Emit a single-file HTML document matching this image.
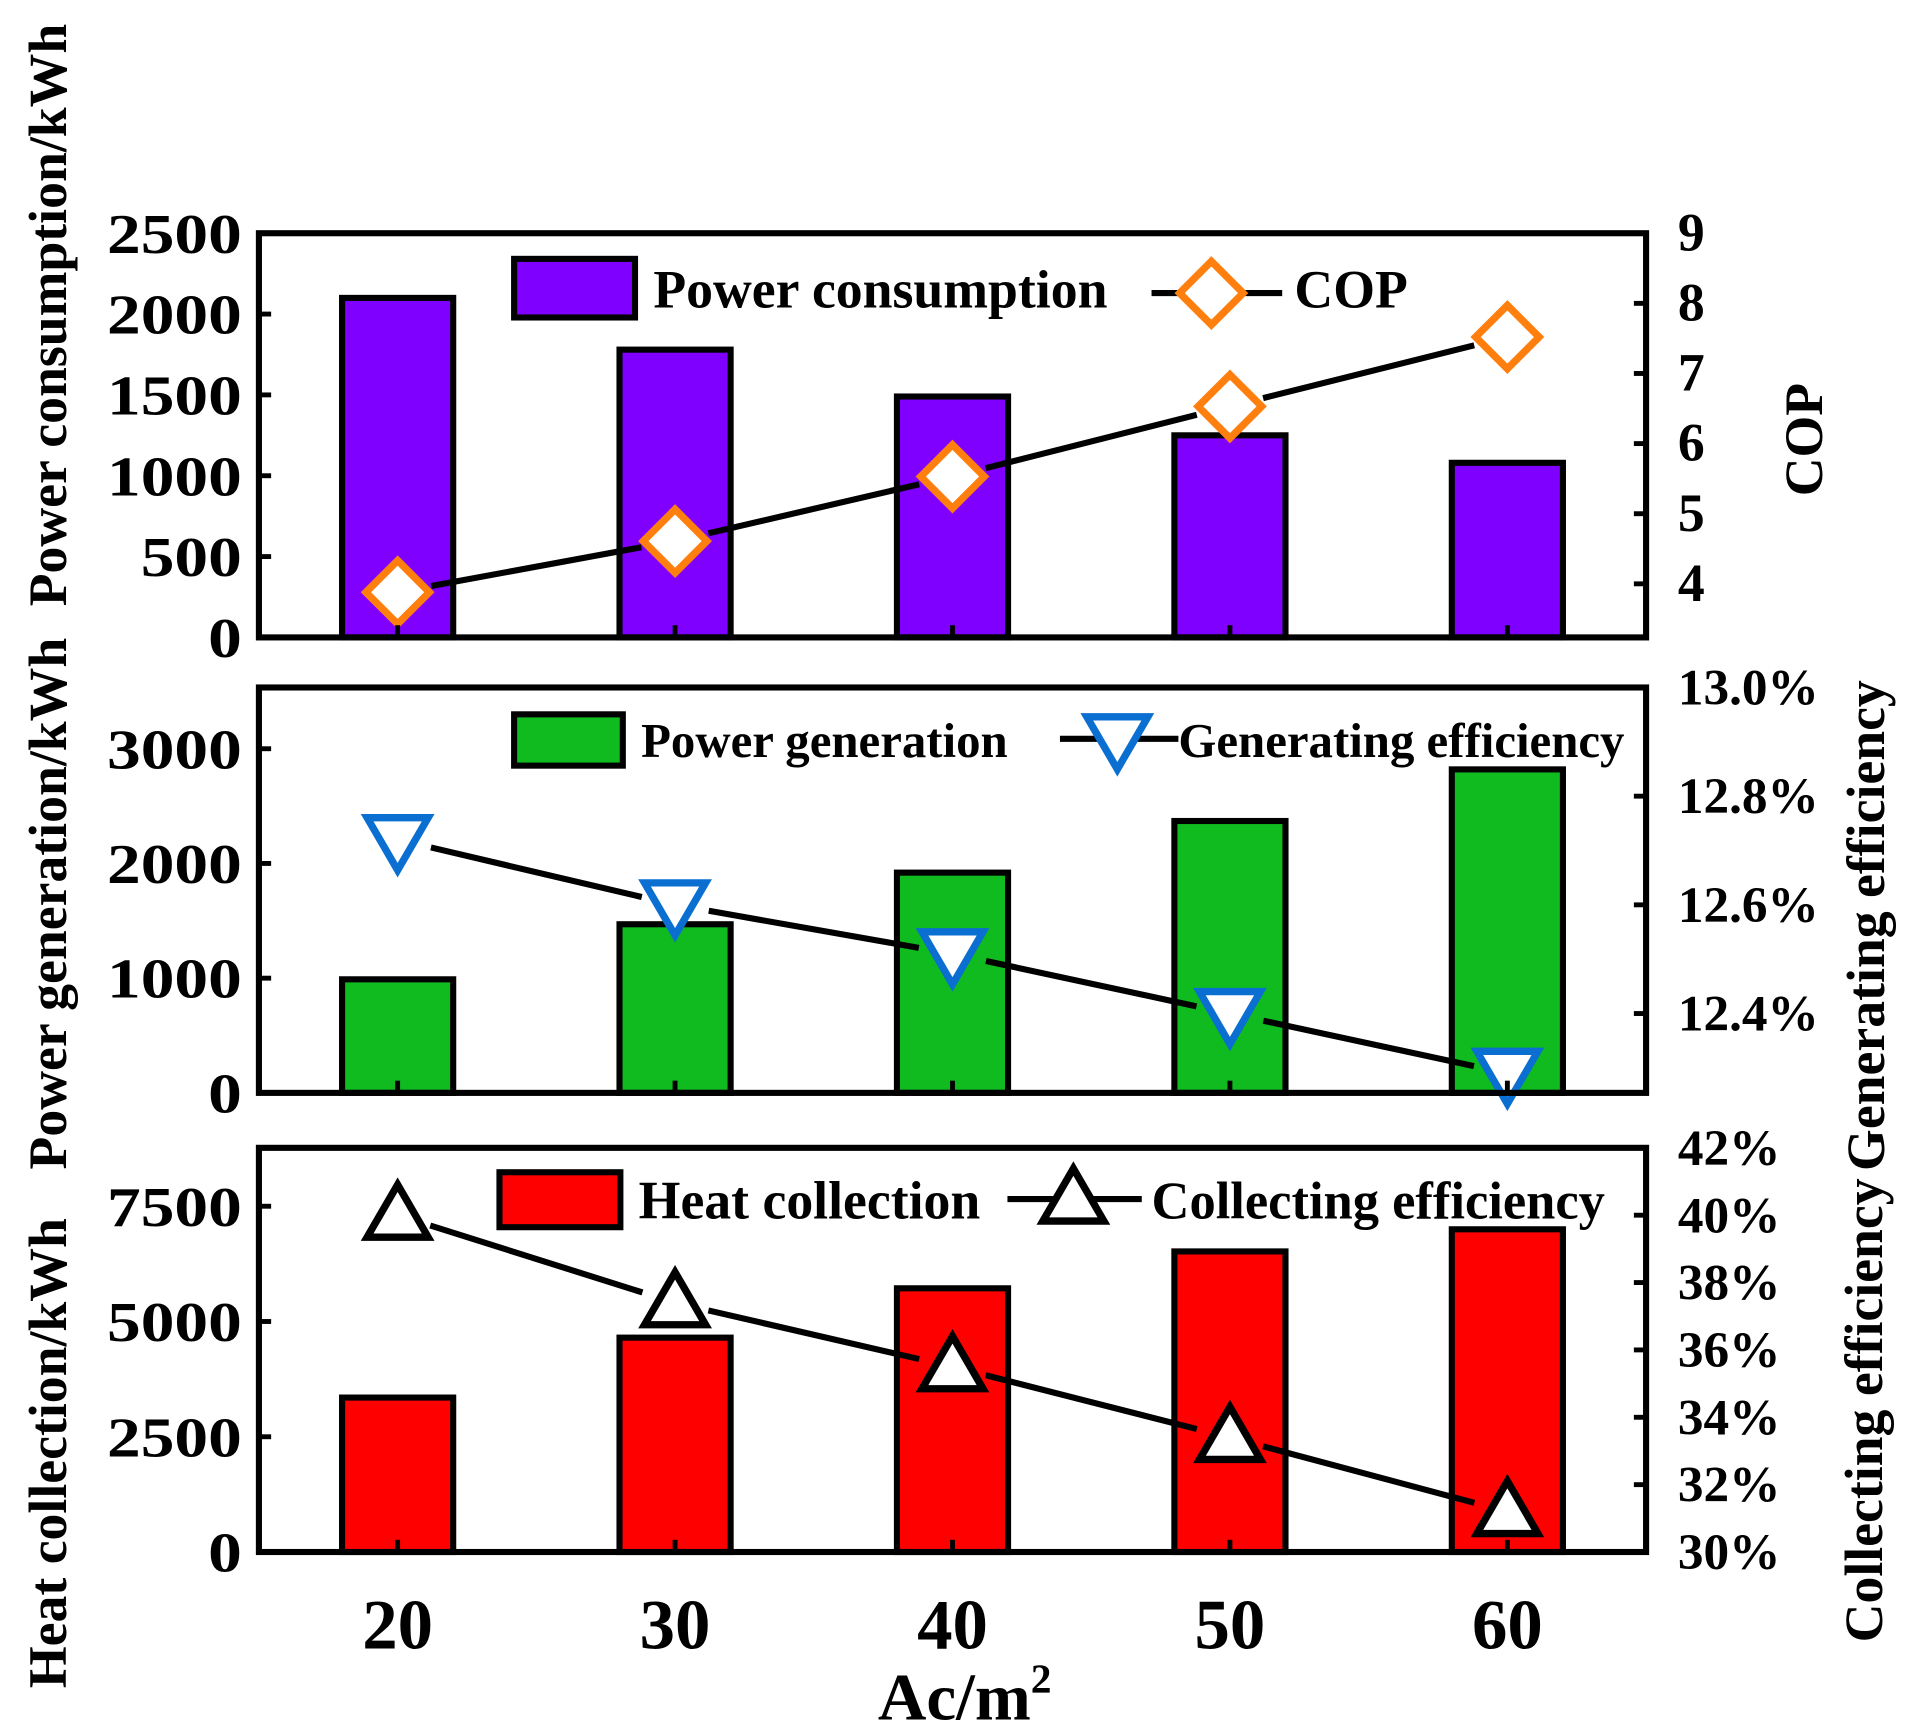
<!DOCTYPE html>
<html><head><meta charset="utf-8"><style>html,body{margin:0;padding:0;background:#fff}svg{display:block}text{font-family:"Liberation Serif",serif;font-weight:bold;fill:#000}</style></head>
<body>
<svg id="chart" width="1905" height="1732" viewBox="0 0 1560 1418.4" xmlns="http://www.w3.org/2000/svg"></svg>
<script>
const categories=[20,30,40,50,60];
const powerConsumption=[2100,1780,1490,1250,1080];
const cop=[3.88,4.61,5.53,6.53,7.52];
const powerGeneration=[990,1470,1920,2370,2820];
const genEff=[12.72,12.60,12.51,12.40,12.29];
const heatCollection=[3350,4650,5720,6520,7000];
const colEff=[40.0,37.4,35.5,33.4,31.2];
const leftTicks1=[0,500,1000,1500,2000,2500];
const rightTicks1=[4,5,6,7,8,9];
const leftTicks2=[0,1000,2000,3000];
const rightTicks2=[12.4,12.6,12.8,13.0];
const leftTicks3=[0,2500,5000,7500];
const rightTicks3=[30,32,34,36,38,40,42];

const svg=document.getElementById('chart');
const NS='http://www.w3.org/2000/svg';
function mk(tag,attrs,parent){const e=document.createElementNS(NS,tag);for(const k in attrs)e.setAttribute(k,attrs[k]);(parent||svg).appendChild(e);return e;}
const L=212,R=1348;
const xPos=i=>L+(i+0.5)*(R-L)/categories.length;
const BW=91;

function panel(cfg){
  const g=mk('g',{});
  
  
  const yL=v=>cfg.bot-(v-cfg.lmin)/(cfg.lmax-cfg.lmin)*(cfg.bot-cfg.top);
  const yR=v=>cfg.bot-(v-cfg.rmin)/(cfg.rmax-cfg.rmin)*(cfg.bot-cfg.top);
  cfg.bars.forEach((v,i)=>{
    const r=mk('rect',{x:xPos(i)-BW/2,y:yL(v),width:BW,height:cfg.bot-yL(v),fill:cfg.barColor,stroke:'#000','stroke-width':5},g);
    
    
  });
  const pts=cfg.line.map((v,i)=>[xPos(i),yR(v)]);
  for(let i=0;i<pts.length-1;i++){
    const [x1,y1]=pts[i],[x2,y2]=pts[i+1];const dx=x2-x1,dy=y2-y1,d=Math.hypot(dx,dy),g0=28;
    const s=mk('line',{x1:x1+dx/d*g0,y1:y1+dy/d*g0,x2:x2-dx/d*g0,y2:y2-dy/d*g0,stroke:'#000','stroke-width':5},g);
    
    
  }
  pts.forEach((p,i)=>{const m=cfg.marker(p[0],p[1],g);
    
    });
  const f=mk('rect',{x:L,y:cfg.top,width:R-L,height:cfg.bot-cfg.top,fill:'none',stroke:'#000','stroke-width':5},g);
  
  
  cfg.lticks.forEach(v=>{const y=yL(v);
    mk('line',{x1:L,x2:L+10,y1:y,y2:y,stroke:'#000','stroke-width':4},g);
    const t=mk('text',{x:0,y:0,'text-anchor':'end','font-size':46,transform:`translate(${L-14},${y+16}) scale(1.2,1)`},g);t.textContent=v;
    
    });
  cfg.rticks.forEach(v=>{const y=yR(v);
    mk('line',{x1:R-10,x2:R,y1:y,y2:y,stroke:'#000','stroke-width':4},g);
    const t=mk('text',{x:R+26,y:y+14,'text-anchor':'start','font-size':cfg.rfs,'font-weight':cfg.rbold?'bold':'normal'},g);t.textContent=cfg.rfmt(v);
    
    });
  categories.forEach((c,i)=>mk('line',{x1:xPos(i),x2:xPos(i),y1:cfg.bot,y2:cfg.bot-10,stroke:'#000','stroke-width':4},g));
  const lg=cfg.leg;
  const lr=mk('rect',{x:lg.rx,y:lg.ry,width:lg.rw,height:lg.rh,fill:cfg.barColor,stroke:'#000','stroke-width':5},g);
  
  
  const t1=mk('text',{x:lg.tx,y:lg.ty,'font-size':lg.fs1},g);t1.textContent=lg.t1;
  
  
  mk('line',{x1:lg.lx1,x2:lg.lx2,y1:lg.ly,y2:lg.ly,stroke:'#000','stroke-width':5},g);
  cfg.marker(lg.mx,lg.ly,g);
  const t2=mk('text',{x:lg.t2x,y:lg.ty,'font-size':lg.fs2},g);t2.textContent=lg.t2;
  
  
}
const diamond=(x,y,g)=>mk('polygon',{points:`${x},${y-26} ${x+26},${y} ${x},${y+26} ${x-26},${y}`,fill:'#fff',stroke:'#ff7f0e','stroke-width':6},g);
const downTri=(x,y,g)=>mk('polygon',{points:`${x-25},${y-18} ${x+25},${y-18} ${x},${y+25}`,fill:'#fff',stroke:'#0a6fd1','stroke-width':6},g);
const upTri=(x,y,g)=>mk('polygon',{points:`${x-25},${y+18} ${x+25},${y+18} ${x},${y-25}`,fill:'#fff',stroke:'#000','stroke-width':6},g);

panel({name:'power-consumption-panel',key:'consumption',top:191,bot:522,lmin:0,lmax:2500,rmin:3.236,rmax:9,
  bars:powerConsumption,line:cop,barColor:'#8000ff',marker:diamond,lticks:leftTicks1,rticks:rightTicks1,rfs:44,rbold:true,rfmt:v=>v,
  leg:{rx:421,ry:212,rw:99,rh:48,tx:535,ty:252,t1:'Power consumption',fs1:44,lx1:943,lx2:1050,ly:240,mx:992,t2x:1060,t2:'COP',fs2:44}});
panel({name:'power-generation-panel',key:'generation',top:563,bot:895,lmin:0,lmax:3534,rmin:12.254,rmax:13.0,
  bars:powerGeneration,line:genEff,barColor:'#10bb20',marker:downTri,lticks:leftTicks2,rticks:rightTicks2,rfs:42,rbold:false,rfmt:v=>v.toFixed(1)+'%',
  leg:{rx:421,ry:585,rw:89,rh:42,tx:525,ty:620,t1:'Power generation',fs1:40,lx1:868,lx2:965,ly:605,mx:915,t2x:965,t2:'Generating efficiency',fs2:40}});
panel({name:'heat-collection-panel',key:'heat',top:940,bot:1271,lmin:0,lmax:8767,rmin:30,rmax:42,
  bars:heatCollection,line:colEff,barColor:'#ff0000',marker:upTri,lticks:leftTicks3,rticks:rightTicks3,rfs:42,rbold:false,rfmt:v=>v+'%',
  leg:{rx:409,ry:960,rw:99,rh:45,tx:523,ty:998,t1:'Heat collection',fs1:44,lx1:825,lx2:935,ly:982,mx:879,t2x:943,t2:'Collecting efficiency',fs2:43}});

categories.forEach((c,i)=>{const t=mk('text',{x:xPos(i),y:1350,'text-anchor':'middle','font-size':58});t.textContent=c;
  
  });
const xt=mk('text',{x:790,y:1408,'text-anchor':'middle','font-size':55});
xt.innerHTML='Ac/m<tspan font-size="34" dy="-22">2</tspan>';


function vlabel(txt,x,y,name,fs){const t=mk('text',{x:0,y:0,'text-anchor':'middle','font-size':fs||44,transform:`translate(${x},${y}) rotate(-90)`});t.textContent=txt;
  
  }
vlabel('Power consumption/kWh',54,258,'y-axis-title-consumption');
vlabel('Power generation/kWh',54,740,'y-axis-title-generation');
vlabel('Heat collection/kWh',54,1190,'y-axis-title-heat');
vlabel('COP',1492,360,'y2-axis-title-cop',44);
vlabel('Generating efficiency',1543,758,'y2-axis-title-generating');
vlabel('Collecting efficiency',1541,1155,'y2-axis-title-collecting');
</script>
</body></html>
